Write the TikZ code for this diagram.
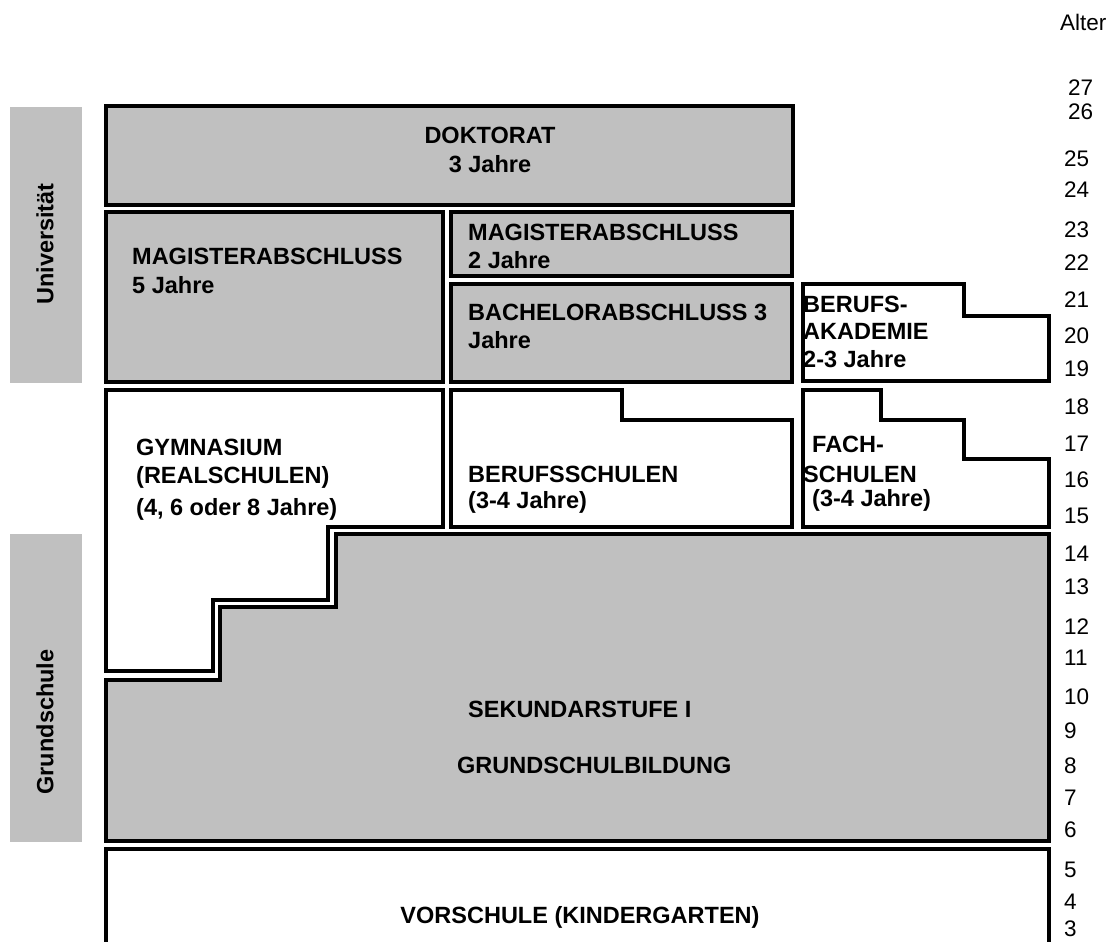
\documentclass[tikz,border=0pt]{standalone}
\usepackage{fontspec}
\setmainfont{Liberation Sans}
\definecolor{silv}{HTML}{C0C0C0}
\begin{document}
\begin{tikzpicture}[x=1pt,y=-1pt,
  gbox/.style={draw=black,line width=3.5pt,fill=silv,line join=miter},
  wbox/.style={draw=black,line width=3.5pt,fill=white,line join=miter},
  lbl/.style={font=\fontsize{23.5}{28}\selectfont\bfseries,inner sep=0pt,anchor=base west},
  clbl/.style={font=\fontsize{23.5}{28}\selectfont\bfseries,inner sep=0pt,anchor=base},
  age/.style={font=\fontsize{22.5}{28}\selectfont,inner sep=0pt,anchor=west},
  sidelbl/.style={font=\fontsize{23.5}{28}\selectfont\bfseries,inner sep=0pt,rotate=90}
]
\useasboundingbox (0,0) rectangle (1109,942);
\clip (0,0) rectangle (1109,942);

% side bars
\fill[silv] (10,107) rectangle (82,383);
\fill[silv] (10,534) rectangle (82,842);
\node[sidelbl] (uni) at (45,244) {Universität};
\node[sidelbl] (grs) at (45,722) {Grundschule};

% boxes
\draw[gbox] (106,106) rectangle (793,205);
\draw[gbox] (106,212) rectangle (443,382);
\draw[gbox] (451,212) rectangle (792,276);
\draw[gbox] (451,284) rectangle (792,382);
\draw[wbox] (803,284) -- (964,284) -- (964,316) -- (1049,316) -- (1049,381) -- (803,381) -- cycle;
\draw[wbox] (106,390) -- (443,390) -- (443,527) -- (328,527) -- (328,600) -- (213,600) -- (213,671) -- (106,671) -- cycle;
\draw[wbox] (451,390) -- (622,390) -- (622,420) -- (792,420) -- (792,527) -- (451,527) -- cycle;
\draw[wbox] (803,390) -- (881,390) -- (881,420) -- (964,420) -- (964,459) -- (1049,459) -- (1049,527) -- (803,527) -- cycle;
\draw[gbox] (106,680) -- (220,680) -- (220,607) -- (336,607) -- (336,534) -- (1049,534) -- (1049,841) -- (106,841) -- cycle;
\fill[white] (106,849) rectangle (1049,960);
\draw[draw=black,line width=3.5pt,line join=miter] (106,960) -- (106,849) -- (1049,849) -- (1049,960);

% texts
\node[clbl] (dok1) at (490,143) {DOKTORAT};
\node[clbl] (dok2) at (490,172) {3 Jahre};
\node[lbl] (mf1) at (132,264.5) {MAGISTERABSCHLUSS};
\node[lbl] (mf2) at (132,293) {5 Jahre};
\node[lbl] (mz1) at (468,240.5) {MAGISTERABSCHLUSS};
\node[lbl] (mz2) at (468,268.5) {2 Jahre};
\node[lbl] (ba1) at (468,320.5) {BACHELORABSCHLUSS 3};
\node[lbl] (ba2) at (468,348.5) {Jahre};
\node[lbl] (ak1) at (803,312) {BERUFS-};
\node[lbl] (ak2) at (803,339.5) {AKADEMIE};
\node[lbl] (ak3) at (803,367) {2-3 Jahre};
\node[lbl] (gy1) at (136,455) {GYMNASIUM};
\node[lbl] (gy2) at (136,483) {(REALSCHULEN)};
\node[lbl] (gy3) at (136,515) {(4, 6 oder 8 Jahre)};
\node[lbl] (bs1) at (468,482) {BERUFSSCHULEN};
\node[lbl] (bs2) at (468,508) {(3-4 Jahre)};
\node[lbl] (fs1) at (812,452) {FACH-};
\node[lbl] (fs2) at (803,482) {SCHULEN};
\node[lbl] (fs3) at (812,506) {(3-4 Jahre)};
\node[lbl] (sek) at (468,717) {SEKUNDARSTUFE I};
\node[lbl] (gsb) at (457,773) {GRUNDSCHULBILDUNG};
\node[clbl] (vor) at (580,923) {VORSCHULE (KINDERGARTEN)};

% ages
\node[age] (alter) at (1060,22) {Alter};
\node[age] (a27) at (1068,88) {27};
\node[age] (a26) at (1068,112) {26};
\node[age] (a25) at (1064,159) {25};
\node[age] (a24) at (1064,190) {24};
\node[age] (a23) at (1064,230) {23};
\node[age] (a22) at (1064,263) {22};
\node[age] (a21) at (1064,300) {21};
\node[age] (a20) at (1064,336) {20};
\node[age] (a19) at (1064,369) {19};
\node[age] (a18) at (1064,407) {18};
\node[age] (a17) at (1064,444) {17};
\node[age] (a16) at (1064,480) {16};
\node[age] (a15) at (1064,516) {15};
\node[age] (a14) at (1064,554) {14};
\node[age] (a13) at (1064,587) {13};
\node[age] (a12) at (1064,627) {12};
\node[age] (a11) at (1064,658) {11};
\node[age] (a10) at (1064,697) {10};
\node[age] (a9) at (1064,731) {9};
\node[age] (a8) at (1064,766) {8};
\node[age] (a7) at (1064,798) {7};
\node[age] (a6) at (1064,830) {6};
\node[age] (a5) at (1064,870) {5};
\node[age] (a4) at (1064,902) {4};
\node[age] (a3) at (1064,929) {3};
\end{tikzpicture}
\end{document}
